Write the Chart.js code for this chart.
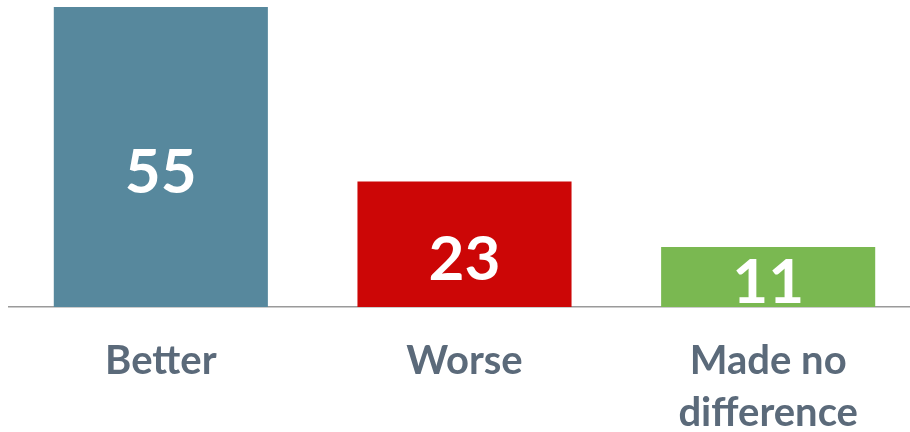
<!DOCTYPE html>
<html>
<head>
<meta charset="utf-8">
<script src="https://cdn.jsdelivr.net/npm/chart.js@4"></script>
<style>
  html, body { margin: 0; padding: 0; background: #fff; overflow: hidden; }
  #wrap { width: 920px; height: 432px; }
</style>
</head>
<body>
<div id="wrap"><canvas id="chart" width="920" height="432"></canvas></div>
<script>
const categories = [['Better'], ['Worse'], ['Made no', 'difference']];
const values = [55, 23, 11];
const barColors = ['#57889d', '#cc0606', '#7ab851'];

// white number inside each bar, drawn from the bar element positions
const valueLabels = {
  id: 'valueLabels',
  afterDatasetsDraw(chart) {
    const ctx = chart.ctx;
    const meta = chart.getDatasetMeta(0);
    ctx.save();
    ctx.fillStyle = '#ffffff';
    ctx.font = 'bold 62px Lato';
    ctx.textAlign = 'center';
    ctx.textBaseline = 'middle';
    meta.data.forEach((bar, i) => {
      const mid = (bar.y + bar.base) / 2 + 16;
      const y = Math.min(mid, bar.base - 24);
      ctx.fillText(String(values[i]), bar.x, y);
    });
    ctx.restore();
  }
};

new Chart(document.getElementById('chart'), {
  type: 'bar',
  data: {
    labels: categories,
    datasets: [{
      data: values,
      backgroundColor: barColors,
      barPercentage: 0.705,
      categoryPercentage: 1
    }]
  },
  options: {
    responsive: false,
    animation: false,
    layout: { padding: { top: 7, left: 9, right: 0, bottom: 0 } },
    plugins: { legend: { display: false }, tooltip: { enabled: false } },
    scales: {
      x: {
        grid: { display: false, drawTicks: false },
        border: { display: true, color: '#9a9a9a', width: 1.5 },
        ticks: {
          color: '#5b6a7a',
          font: { family: 'Lato', size: 40, weight: 'bold', lineHeight: 1.3 },
          padding: 28,
          maxRotation: 0
        },
        afterFit: s => { s.height = 125; }
      },
      y: {
        display: false,
        min: 0,
        max: 55
      }
    }
  },
  plugins: [valueLabels]
});
</script>
</body>
</html>
